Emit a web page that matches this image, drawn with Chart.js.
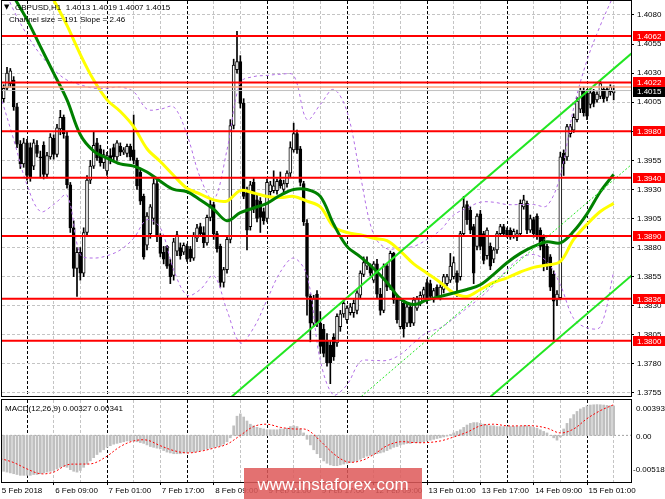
<!DOCTYPE html>
<html>
<head>
<meta charset="utf-8">
<script src="https://cdn.jsdelivr.net/npm/chart.js@4.4.1/dist/chart.umd.min.js"></script>
<style>
html,body{margin:0;padding:0;background:#ffffff;}
#wrap{position:relative;width:665px;height:499px;overflow:hidden;background:#fff;}
canvas{position:absolute;left:0;}
#main{top:0;}
#macd{top:397px;}
</style>
</head>
<body>
<div id="wrap">
<canvas id="main" width="665" height="397"></canvas>
<canvas id="macd" width="665" height="102"></canvas>
</div>
<script>
// ---------------- data ----------------
const symbolTitle = 'GBPUSD,H1';
const lastOHLC = [1.4013, 1.4019, 1.4007, 1.4015];
const channelText = 'Channel size = 191 Slope = 2.46';

const opens = [
1.3993,1.4008,1.4017,1.4021,1.4024,1.4001,1.3969,1.3952,1.3970,1.3966,
1.3950,1.3968,1.3958,1.3968,1.3943,1.3958,1.3974,1.3960,1.3982,1.3992,
1.3976,1.3934,1.3897,1.3862,1.3876,1.3858,1.3893,1.3938,1.3950,1.3970,
1.3965,1.3953,1.3946,1.3959,1.3966,1.3958,1.3967,1.3962,1.3961,1.3967,
1.3964,1.3955,1.3945,1.3924,1.3882,1.3892,1.3905,1.3935,1.3890,1.3876,
1.3881,1.3866,1.3856,1.3877,1.3880,1.3876,1.3881,1.3879,1.3871,1.3888,
1.3898,1.3893,1.3884,1.3906,1.3917,1.3892,1.3881,1.3850,1.3861,1.3887,
1.3985,1.4033,1.4040,1.4004,1.3927,1.3898,1.3936,1.3921,1.3920,1.3911,
1.3905,1.3928,1.3929,1.3929,1.3938,1.3930,1.3935,1.3944,1.3964,1.3978,
1.3965,1.3935,1.3901,1.3838,1.3815,1.3840,1.3815,1.3810,1.3800,1.3796,
1.3803,1.3798,1.3812,1.3823,1.3818,1.3824,1.3824,1.3826,1.3839,1.3857,
1.3864,1.3864,1.3852,1.3866,1.3840,1.3826,1.3864,1.3846,1.3875,1.3836,
1.3812,1.3832,1.3815,1.3829,1.3815,1.3828,1.3832,1.3839,1.3850,1.3849,
1.3835,1.3846,1.3838,1.3844,1.3849,1.3852,1.3855,1.3858,1.3855,1.3892,
1.3917,1.3912,1.3898,1.3881,1.3909,1.3892,1.3873,1.3881,1.3870,1.3878,
1.3892,1.3898,1.3895,1.3895,1.3890,1.3889,1.3892,1.3915,1.3918,1.3895,
1.3904,1.3907,1.3895,1.3889,1.3881,1.3872,1.3857,1.3835,1.3837,1.3961,
1.3958,1.3978,1.3981,1.3990,1.3999,1.4015,1.4013,1.4003,1.4014,1.4007,
1.4010,1.4016,1.4009,1.4014,1.4013];
const highs = [
1.4012,1.4020,1.4035,1.4034,1.4027,1.4004,1.3972,1.3974,1.3973,1.3970,
1.3973,1.3972,1.3963,1.3971,1.3962,1.3978,1.3977,1.3986,1.3998,1.3994,
1.3979,1.3936,1.3903,1.3880,1.3880,1.3897,1.3942,1.3955,1.3980,1.3974,
1.3968,1.3964,1.3962,1.3965,1.3969,1.3972,1.3970,1.3966,1.3969,1.3969,
1.3994,1.3957,1.3948,1.3926,1.3910,1.3917,1.3940,1.3938,1.3892,1.3881,
1.3882,1.3870,1.3888,1.3894,1.3884,1.3884,1.3883,1.3881,1.3893,1.3900,
1.3901,1.3898,1.3908,1.3921,1.3919,1.3894,1.3883,1.3863,1.3890,1.3990,
1.4042,1.4066,1.4045,1.4008,1.3932,1.3937,1.3940,1.3925,1.3923,1.3914,
1.3939,1.3937,1.3946,1.3939,1.3945,1.3938,1.3946,1.3971,1.3987,1.3981,
1.3967,1.3937,1.3904,1.3840,1.3839,1.3843,1.3825,1.3814,1.3806,1.3800,
1.3806,1.3823,1.3826,1.3835,1.3830,1.3832,1.3835,1.3843,1.3860,1.3872,
1.3872,1.3866,1.3868,1.3870,1.3845,1.3866,1.3866,1.3877,1.3876,1.3838,
1.3837,1.3834,1.3832,1.3831,1.3837,1.3838,1.3842,1.3846,1.3853,1.3852,
1.3845,1.3848,1.3848,1.3857,1.3857,1.3875,1.3872,1.3860,1.3894,1.3924,
1.3920,1.3915,1.3900,1.3909,1.3912,1.3894,1.3897,1.3884,1.3880,1.3894,
1.3900,1.3900,1.3897,1.3897,1.3896,1.3895,1.3921,1.3925,1.3920,1.3908,
1.3906,1.3909,1.3897,1.3891,1.3883,1.3874,1.3860,1.3843,1.3962,1.3964,
1.3986,1.3986,1.3995,1.4009,1.4017,1.4018,1.4016,1.4016,1.4016,1.4014,
1.4023,1.4018,1.4018,1.4020,1.4019];
const lows = [
1.3988,1.4005,1.4015,1.4018,1.3998,1.3966,1.3948,1.3949,1.3938,1.3937,
1.3947,1.3958,1.3940,1.3939,1.3940,1.3956,1.3956,1.3958,1.3977,1.3974,
1.3931,1.3893,1.3855,1.3838,1.3852,1.3855,1.3890,1.3935,1.3948,1.3955,
1.3950,1.3948,1.3942,1.3952,1.3955,1.3955,1.3959,1.3960,1.3958,1.3955,
1.3952,1.3930,1.3917,1.3870,1.3878,1.3888,1.3900,1.3885,1.3872,1.3866,
1.3862,1.3849,1.3852,1.3873,1.3870,1.3874,1.3868,1.3868,1.3869,1.3885,
1.3890,1.3880,1.3882,1.3903,1.3887,1.3876,1.3846,1.3846,1.3858,1.3884,
1.3982,1.4030,1.4000,1.3922,1.3878,1.3895,1.3910,1.3902,1.3893,1.3900,
1.3902,1.3925,1.3927,1.3926,1.3931,1.3927,1.3932,1.3941,1.3962,1.3961,
1.3933,1.3899,1.3822,1.3799,1.3812,1.3812,1.3789,1.3786,1.3778,1.3763,
1.3783,1.3795,1.3808,1.3820,1.3815,1.3822,1.3820,1.3823,1.3836,1.3855,
1.3861,1.3856,1.3850,1.3836,1.3822,1.3824,1.3843,1.3844,1.3832,1.3815,
1.3810,1.3803,1.3812,1.3812,1.3813,1.3826,1.3830,1.3836,1.3832,1.3836,
1.3833,1.3836,1.3835,1.3841,1.3847,1.3850,1.3853,1.3838,1.3852,1.3890,
1.3900,1.3892,1.3849,1.3878,1.3878,1.3866,1.3870,1.3861,1.3867,1.3875,
1.3890,1.3890,1.3889,1.3887,1.3888,1.3886,1.3890,1.3913,1.3892,1.3893,
1.3889,1.3887,1.3878,1.3860,1.3861,1.3843,1.3800,1.3830,1.3835,1.3942,
1.3955,1.3975,1.3979,1.3988,1.3996,1.3993,1.3990,1.4000,1.4001,1.4005,
1.4008,1.4005,1.4006,1.4011,1.4007];
const closes = [
1.4008,1.4017,1.4030,1.4032,1.4001,1.3969,1.3952,1.3970,1.3942,1.3940,
1.3970,1.3961,1.3957,1.3943,1.3959,1.3975,1.3960,1.3983,1.3992,1.3978,
1.3934,1.3897,1.3862,1.3876,1.3858,1.3893,1.3938,1.3950,1.3968,1.3957,
1.3953,1.3960,1.3959,1.3955,1.3958,1.3970,1.3962,1.3964,1.3967,1.3958,
1.3955,1.3933,1.3920,1.3872,1.3907,1.3915,1.3935,1.3890,1.3875,1.3870,
1.3864,1.3855,1.3885,1.3891,1.3873,1.3882,1.3870,1.3871,1.3890,1.3897,
1.3892,1.3884,1.3906,1.3917,1.3892,1.3879,1.3850,1.3861,1.3887,1.3985,
1.4037,1.4040,1.4004,1.3924,1.3895,1.3934,1.3913,1.3905,1.3906,1.3903,
1.3936,1.3934,1.3933,1.3937,1.3933,1.3935,1.3944,1.3966,1.3978,1.3964,
1.3936,1.3902,1.3838,1.3815,1.3836,1.3815,1.3795,1.3789,1.3781,1.3781,
1.3786,1.3821,1.3823,1.3832,1.3828,1.3829,1.3832,1.3841,1.3858,1.3867,
1.3867,1.3858,1.3866,1.3840,1.3826,1.3864,1.3846,1.3875,1.3835,1.3818,
1.3835,1.3810,1.3829,1.3815,1.3835,1.3836,1.3839,1.3844,1.3835,1.3838,
1.3843,1.3838,1.3846,1.3855,1.3855,1.3864,1.3867,1.3850,1.3892,1.3915,
1.3904,1.3895,1.3858,1.3907,1.3881,1.3869,1.3895,1.3864,1.3878,1.3892,
1.3898,1.3892,1.3891,1.3889,1.3894,1.3892,1.3918,1.3921,1.3895,1.3905,
1.3892,1.3890,1.3881,1.3864,1.3864,1.3846,1.3834,1.3840,1.3958,1.3952,
1.3984,1.3984,1.3992,1.4006,1.4015,1.3996,1.3993,1.4013,1.4004,1.4012,
1.4021,1.4008,1.4016,1.4018,1.4015];

// smooth indicator lines, one value every `lineStep` bars
const lineStep = 4;
const greenMA = [1.4119,1.4096,1.4076,1.4053,1.4030,1.4007,1.3977,1.3963,1.3957,1.3952,
1.3950,1.3945,1.3937,1.3930,1.3928,1.3921,1.3913,1.3903,1.3910,1.3914,
1.3918,1.3925,1.3930,1.3930,1.3924,1.3900,1.3881,1.3872,1.3862,1.3850,
1.3836,1.3831,1.3835,1.3838,1.3841,1.3844,1.3848,1.3857,1.3867,1.3875,
1.3881,1.3885,1.3884,1.3894,1.3909,1.3928,1.3943];
const yellowMA = [1.4180,1.4162,1.4136,1.4114,1.4093,1.4071,1.4046,1.4024,1.4007,1.3997,
1.3984,1.3965,1.3954,1.3942,1.3931,1.3926,1.3921,1.3920,1.3929,1.3927,
1.3924,1.3923,1.3924,1.3920,1.3915,1.3898,1.3893,1.3891,1.3888,1.3886,
1.3877,1.3866,1.3858,1.3850,1.3841,1.3838,1.3844,1.3850,1.3854,1.3859,
1.3863,1.3865,1.3868,1.3887,1.3900,1.3911,1.3918];
const upperBand = [1.4110,1.4084,1.4063,1.4046,1.4033,1.4024,1.4020,1.4017,1.4017,1.4018,
1.4014,1.3999,1.3999,1.4001,1.3977,1.3940,1.3921,1.3964,1.4022,1.4027,
1.4028,1.4029,1.4028,1.3990,1.4003,1.4016,1.3997,1.3942,1.3891,1.3879,
1.3880,1.3881,1.3887,1.3895,1.3908,1.3914,1.3919,1.3919,1.3917,1.3917,
1.3917,1.3916,1.3942,1.4000,1.4041,1.4071,1.4097];
const lowerBand = [1.4011,1.3973,1.3934,1.3911,1.3917,1.3925,1.3874,1.3871,1.3873,1.3878,
1.3888,1.3904,1.3897,1.3861,1.3839,1.3844,1.3856,1.3826,1.3798,1.3811,
1.3835,1.3859,1.3871,1.3856,1.3783,1.3753,1.3762,1.3782,1.3783,1.3783,
1.3788,1.3798,1.3807,1.3811,1.3819,1.3828,1.3837,1.3848,1.3861,1.3871,
1.3874,1.3868,1.3848,1.3819,1.3811,1.3812,1.3859];

// regression channel: prices at two bars
const channelBars = [40, 195];
const channelUpper = [1.36795, 1.40608];
const channelMiddle = [1.35840, 1.39653];
const channelLower = [1.34885, 1.38698];

const levels = [1.4062, 1.4022, 1.3980, 1.3940, 1.3890, 1.3836, 1.3800];
const bidPrice = 1.4015;
const askPrice = 1.4018;
const priceTicks = [1.4080,1.4055,1.4030,1.4005,1.3980,1.3955,1.3930,1.3905,1.3880,1.3855,1.3830,1.3805,1.3780,1.3755];

const macdHist = [
-0.00381,-0.00399,-0.00408,-0.00417,-0.00426,-0.00435,-0.00444,-0.00444,
-0.00444,-0.00444,-0.00435,-0.00435,-0.00426,-0.00417,-0.00408,-0.00399,
-0.00390,-0.00373,-0.00355,-0.00346,-0.00355,-0.00381,-0.00399,-0.00408,-0.00390,-0.00355,
-0.00319,-0.00284,-0.00248,-0.00213,-0.00186,-0.00160,-0.00133,-0.00115,
-0.00098,-0.00089,-0.00080,-0.00071,-0.00062,-0.00062,-0.00062,-0.00071,-0.00080,
-0.00089,-0.00106,-0.00124,-0.00133,-0.00142,-0.00151,
-0.00169,-0.00186,-0.00195,-0.00204,-0.00204,-0.00204,-0.00195,-0.00195,
-0.00186,-0.00186,-0.00177,-0.00169,-0.00160,-0.00151,-0.00142,-0.00133,
-0.00124,-0.00115,-0.00098,-0.00071,-0.00027,
0.00106,0.00213,0.00239,0.00204,0.00160,
0.00124,0.00106,0.00089,0.00080,0.00071,
0.00062,0.00062,0.00062,0.00062,0.00071,0.00071,0.00080,0.00098,0.00106,
0.00098,0.00071,0.00027,-0.00044,
-0.00106,-0.00160,-0.00204,-0.00248,-0.00284,
-0.00310,-0.00328,-0.00337,-0.00337,-0.00328,-0.00319,-0.00310,-0.00302,-0.00293,
-0.00284,-0.00266,-0.00248,-0.00231,-0.00222,-0.00213,
-0.00204,-0.00195,-0.00186,-0.00169,-0.00151,-0.00133,-0.00124,-0.00106,-0.00098,
-0.00089,-0.00089,-0.00080,-0.00080,-0.00080,-0.00071,
-0.00062,-0.00053,-0.00044,-0.00035,-0.00027,-0.00018,-0.00009,0.00009,
0.00027,0.00044,0.00062,0.00089,0.00115,
0.00133,0.00142,0.00142,0.00133,0.00124,
0.00115,0.00106,0.00106,0.00098,0.00098,0.00098,0.00098,0.00098,0.00098,0.00098,
0.00098,0.00106,0.00106,0.00098,0.00089,0.00080,0.00062,0.00044,0.00027,
0.00000,-0.00027,-0.00053,-0.00018,
0.00071,0.00133,0.00186,0.00231,0.00266,
0.00293,0.00310,0.00328,0.00337,0.00340,0.00342,0.00340,0.00337,0.00333,0.00330,0.00327];
const macdSignal = [-0.00257,-0.00302,-0.00373,-0.00426,-0.00408,-0.00328,-0.00319,-0.00310,
-0.00231,-0.00124,-0.00062,-0.00053,-0.00115,-0.00169,-0.00195,-0.00177,-0.00142,-0.00098,
0.00000,0.00098,0.00124,0.00089,0.00071,0.00062,-0.00062,-0.00204,-0.00293,-0.00284,
-0.00213,-0.00115,-0.00071,-0.00080,-0.00080,-0.00062,-0.00018,0.00035,0.00106,0.00124,
0.00106,0.00106,0.00106,0.00080,0.00027,0.00071,0.00186,0.00275,0.00341];
const macdLast = [0.00327, 0.00341];
const macdRange = [-0.00518, 0.00393];

const timeLabels = ['5 Feb 2018','6 Feb 09:00','7 Feb 01:00','7 Feb 17:00','8 Feb 09:00','9 Feb 01:00',
'9 Feb 17:00','12 Feb 09:00','13 Feb 01:00','13 Feb 17:00','14 Feb 09:00','15 Feb 01:00'];
const labelBars = [0,16,32,48,64,80,96,112,128,144,160,176];
const gridBars = [8,16,24,32,40,48,56,64,72,80,88,96,104,112,120,128,136,144,152,160,168,176,184];
const dayBars = [8,32,56,80,104,128,152,176];

// ---------------- view ----------------
const X_MIN = 0.5, X_MAX = 189.2;
const FONT = '"Liberation Sans", Arial, sans-serif';
Chart.defaults.font.family = FONT;
Chart.defaults.font.size = 8;
Chart.defaults.color = '#000';

const stepSeries = arr => arr.map((v, k) => ({x: k * lineStep, y: v}));
const pairSeries = (xs, ys) => xs.map((x, k) => ({x, y: ys[k]}));
const flat = v => [{x: X_MIN, y: v}, {x: X_MAX, y: v}];
const lineDs = (data, color, width, dash, order, tension) => ({
  type: 'line', data, borderColor: color, borderWidth: width, borderDash: dash,
  pointRadius: 0, pointHoverRadius: 0, fill: false, tension: tension, order
});
const vGridColor = ctx => {
  const v = ctx.tick && ctx.tick.value;
  if (dayBars.includes(v)) return '#000000';
  if (gridBars.includes(v)) return '#c4c4c4';
  return 'rgba(0,0,0,0)';
};

const mainDatasets = [];
levels.forEach(lv => mainDatasets.push(lineDs(flat(lv), '#ff0000', 2, [], 1, 0)));
mainDatasets.push(lineDs(flat(askPrice), '#ffa07a', 1.5, [], 2, 0));
mainDatasets.push(lineDs(flat(bidPrice), '#c0c0c0', 1, [], 2, 0));
mainDatasets.push(lineDs(pairSeries(channelBars, channelUpper), '#22e622', 2, [], 3, 0));
mainDatasets.push(lineDs(pairSeries(channelBars, channelLower), '#22e622', 2, [], 3, 0));
mainDatasets.push(lineDs(pairSeries(channelBars, channelMiddle), '#22e622', 1, [2, 2], 3, 0));
mainDatasets.push(lineDs(stepSeries(greenMA), '#008000', 3, [], 4, 0.35));
mainDatasets.push(lineDs(stepSeries(yellowMA), '#ffff00', 3, [], 4, 0.35));
mainDatasets.push(lineDs(stepSeries(upperBand), '#b26ee6', 1, [3, 3], 5, 0.35));
mainDatasets.push(lineDs(stepSeries(lowerBand), '#b26ee6', 1, [3, 3], 5, 0.35));
mainDatasets.push({
  type: 'bar', order: 6, grouped: false, barThickness: 3, minBarLength: 1,
  data: opens.map((o, i) => ({x: i, y: [o, closes[i]]})),
  backgroundColor: ctx => closes[ctx.dataIndex] >= opens[ctx.dataIndex] ? '#ffffff' : '#000000',
  borderColor: '#000000', borderWidth: 1, borderSkipped: false
});
mainDatasets.push({
  type: 'bar', order: 7, grouped: false, barThickness: 1,
  data: highs.map((h, i) => ({x: i, y: [lows[i], h]})),
  backgroundColor: '#000000', borderWidth: 0
});

const mainOverlay = {
  id: 'mainOverlay',
  afterDraw(chart) {
    const {ctx, chartArea: a, scales: {y}} = chart;
    ctx.save();
    ctx.strokeStyle = '#000000';
    ctx.lineWidth = 1;
    ctx.strokeRect(a.left - 0.5, a.top - 0.5, a.right - a.left + 1, a.bottom - a.top + 1);
    ctx.font = '8px ' + FONT;
    ctx.textBaseline = 'middle';
    ctx.textAlign = 'left';
    levels.forEach(lv => {
      const py = Math.round(y.getPixelForValue(lv));
      ctx.fillStyle = '#ff0000';
      ctx.fillRect(a.right + 2, py - 5, 32, 10);
      ctx.fillStyle = '#ffffff';
      ctx.fillText(lv.toFixed(4), a.right + 6, py + 0.5);
    });
    const pb = Math.round(y.getPixelForValue(bidPrice));
    ctx.fillStyle = '#000000';
    ctx.fillRect(a.right + 2, pb - 4, 32, 10);
    ctx.fillStyle = '#ffffff';
    ctx.fillText(bidPrice.toFixed(4), a.right + 6, pb + 1);
    ctx.fillStyle = '#000000';
    ctx.font = '7px "DejaVu Sans"';
    ctx.fillText('\u25BC', 4, 7);
    ctx.font = '8px ' + FONT;
    ctx.fillText(symbolTitle + '  ' + lastOHLC.map(v => v.toFixed(4)).join(' '), 15, 7.5);
    ctx.fillText(channelText, 9, 20);
    ctx.restore();
  }
};

new Chart(document.getElementById('main'), {
  type: 'line',
  data: {datasets: mainDatasets},
  options: {
    responsive: false, animation: false, devicePixelRatio: 1,
    events: [],
    layout: {padding: {left: 2, top: 1, right: 0, bottom: 1}},
    plugins: {legend: {display: false}, tooltip: {enabled: false}},
    scales: {
      x: {
        type: 'linear', position: 'bottom', min: X_MIN, max: X_MAX, offset: false,
        afterBuildTicks: s => { s.ticks = gridBars.map(v => ({value: v})); },
        afterFit: s => { s.height = 0; s.paddingLeft = 0; s.paddingRight = 0; },
        ticks: {display: false},
        grid: {offset: false, drawTicks: false, color: vGridColor, lineWidth: 1},
        border: {display: false, dash: [3, 2]}
      },
      y: {
        type: 'linear', position: 'right', min: 1.37524, max: 1.40920,
        afterBuildTicks: s => { s.ticks = priceTicks.map(v => ({value: v})); },
        afterFit: s => { s.width = 34; s.paddingTop = 0; s.paddingBottom = 0; },
        ticks: {padding: 3, color: '#000', font: {size: 8}, callback: v => Number(v).toFixed(4)},
        grid: {offset: false, color: '#c4c4c4', lineWidth: 1, drawTicks: true, tickLength: 3, tickColor: '#000', tickBorderDash: []},
        border: {display: true, color: '#000', width: 1, dash: [3, 2]}
      }
    }
  },
  plugins: [mainOverlay]
});

// ---------------- MACD window ----------------
const macdOverlay = {
  id: 'macdOverlay',
  afterDraw(chart) {
    const {ctx, chartArea: a, scales: {y}} = chart;
    ctx.save();
    ctx.strokeStyle = '#000000';
    ctx.lineWidth = 1;
    ctx.strokeRect(a.left - 0.5, a.top - 0.5, a.right - a.left + 1, a.bottom - a.top + 1);
    ctx.fillStyle = '#000000';
    ctx.font = '8px ' + FONT;
    ctx.textBaseline = 'middle';
    ctx.textAlign = 'left';
    ctx.fillText(macdRange[1].toFixed(5), a.right + 5, a.top + 9);
    ctx.fillText('0.00', a.right + 5, y.getPixelForValue(0) + 1);
    ctx.fillText(macdRange[0].toFixed(5), a.right + 2, a.bottom - 12);
    ctx.fillText('MACD(12,26,9) ' + macdLast.map(v => v.toFixed(5)).join(' '), 5, a.top + 9);
    // site watermark
    ctx.fillStyle = 'rgba(222, 90, 90, 0.86)';
    ctx.fillRect(244, 71, 178, 31);
    ctx.fillStyle = '#ffffff';
    ctx.font = '17px ' + FONT;
    ctx.textAlign = 'center';
    ctx.fillText('www.instaforex.com', 333, 88);
    ctx.restore();
  }
};

new Chart(document.getElementById('macd'), {
  type: 'line',
  data: {datasets: [
    lineDs(flat(0), '#a0a0a0', 1, [2, 2], 3, 0),
    lineDs(stepSeries(macdSignal), '#ff0000', 1, [2, 2], 1, 0.35),
    {
      type: 'bar', order: 2, grouped: false, barThickness: 2,
      data: macdHist.map((v, i) => ({x: i, y: [0, v]})),
      backgroundColor: '#c0c0c0', borderWidth: 0
    }
  ]},
  options: {
    responsive: false, animation: false, devicePixelRatio: 1,
    events: [],
    layout: {padding: {left: 2, top: 3, right: 0, bottom: 0}},
    plugins: {legend: {display: false}, tooltip: {enabled: false}},
    scales: {
      x: {
        type: 'linear', position: 'bottom', min: X_MIN, max: X_MAX, offset: false,
        afterBuildTicks: s => { s.ticks = [0].concat(gridBars).map(v => ({value: v})); },
        afterFit: s => { s.height = 17; s.paddingLeft = 0; s.paddingRight = 0; },
        ticks: {
          autoSkip: false, maxRotation: 0, minRotation: 0, align: 'start', labelOffset: 1.5,
          padding: 1, color: '#000', font: {size: 8},
          callback: v => { const k = labelBars.indexOf(v); return k < 0 ? '' : timeLabels[k]; }
        },
        grid: {
          offset: false, color: vGridColor, lineWidth: 1, drawTicks: true, tickLength: 3,
          tickColor: ctx => labelBars.includes(ctx.tick && ctx.tick.value) && ctx.tick.value > 0 ? '#000' : 'rgba(0,0,0,0)',
          tickBorderDash: []
        },
        border: {display: false, dash: [3, 2]}
      },
      y: {
        type: 'linear', position: 'right', min: macdRange[0], max: macdRange[1],
        afterFit: s => { s.width = 34; s.paddingTop = 0; s.paddingBottom = 0; },
        ticks: {display: false},
        grid: {display: false},
        border: {display: true, color: '#000', width: 1}
      }
    }
  },
  plugins: [macdOverlay]
});
</script>
</body>
</html>
